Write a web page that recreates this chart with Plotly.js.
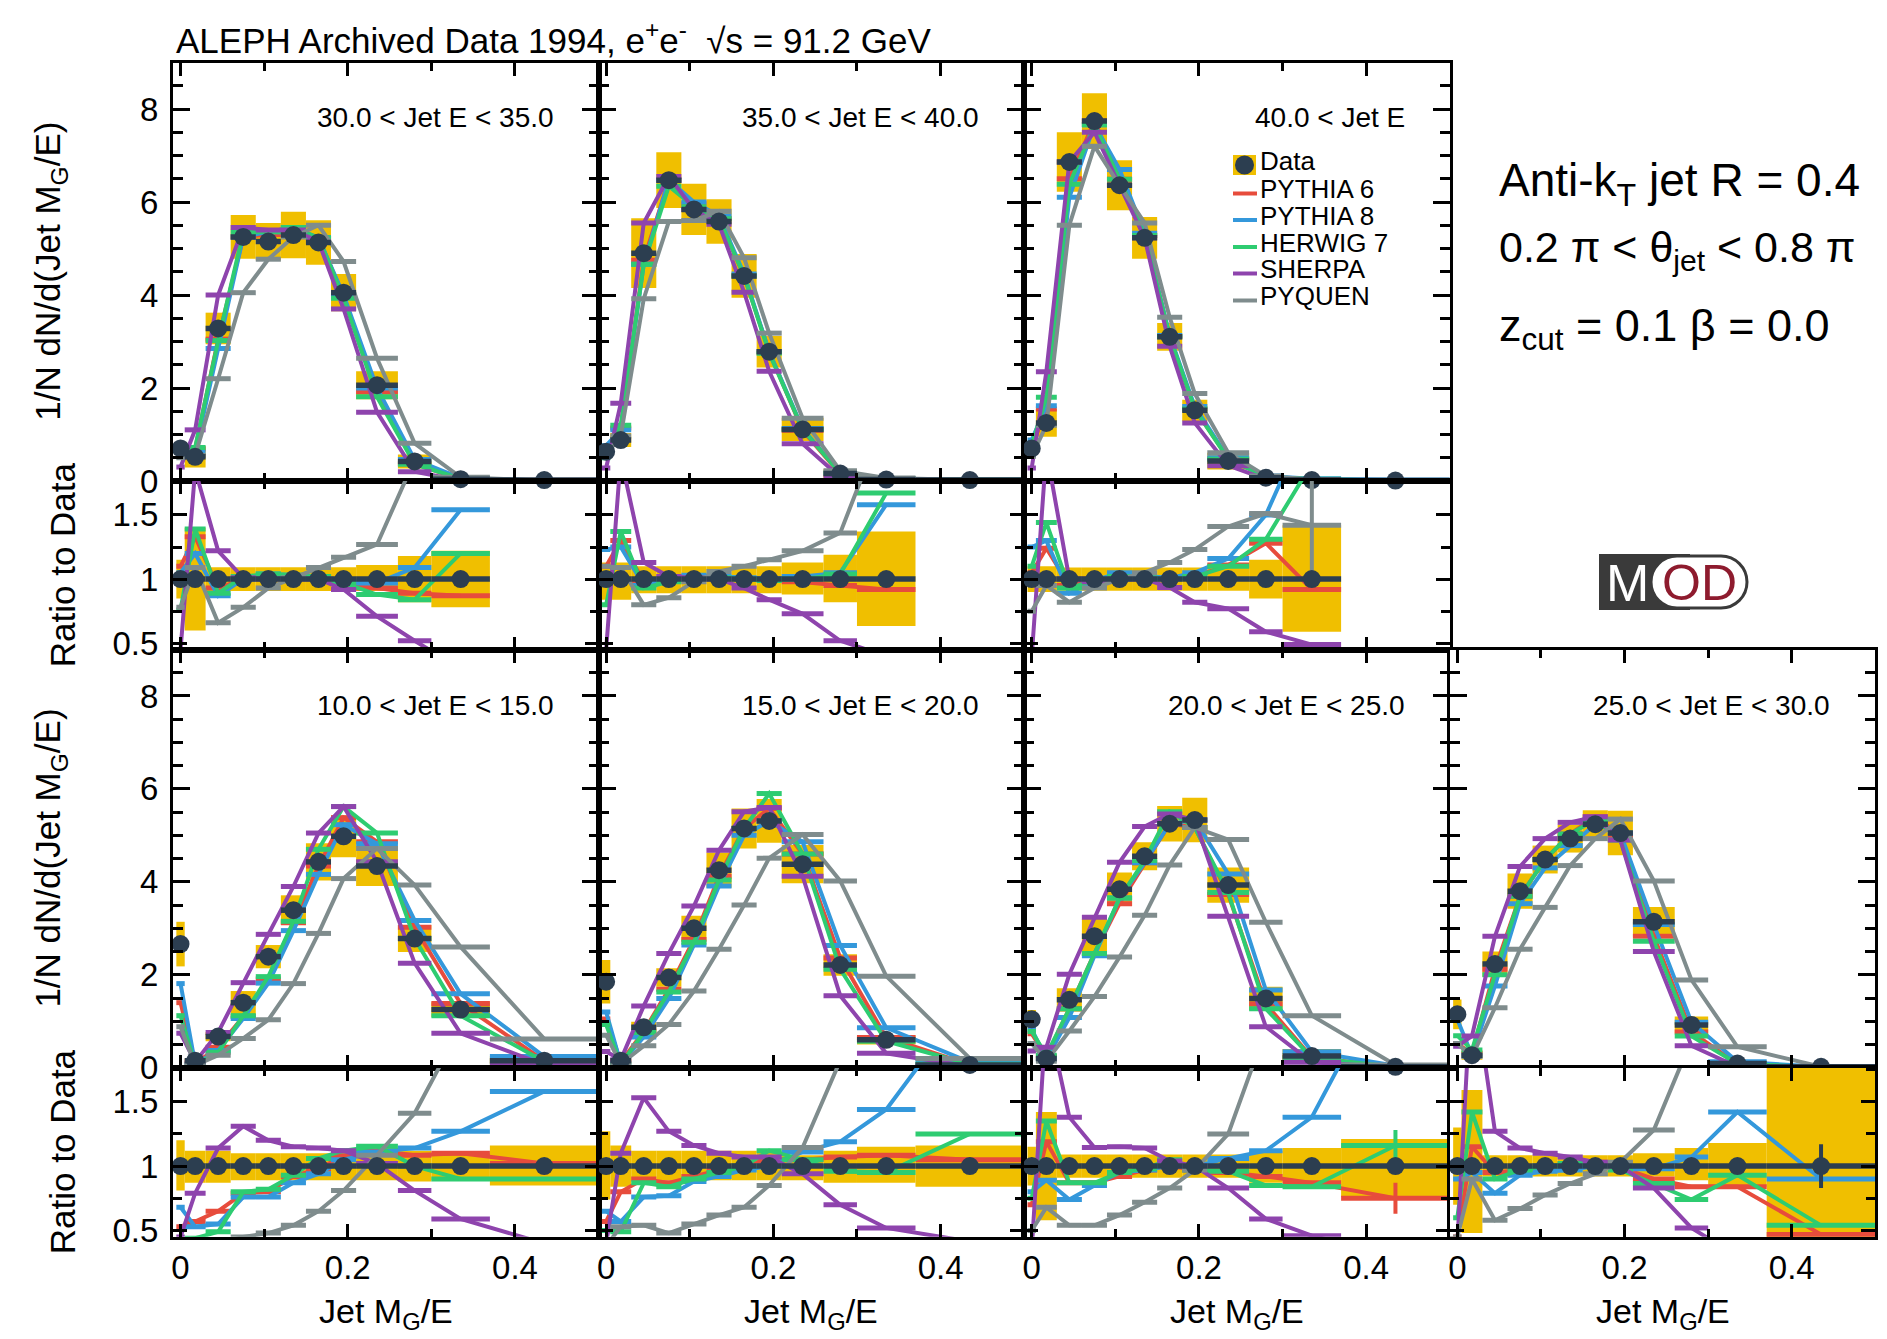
<!DOCTYPE html>
<html><head><meta charset="utf-8">
<script src="https://cdn.plot.ly/plotly-3.0.1.min.js"></script>
<style>html,body{margin:0;padding:0;background:#fff;} #chart{width:1887px;height:1339px;}</style>
</head><body><div id="chart"></div>
<script>
// ---------------- DATA ----------------
const binCenters    = [0, 0.0175, 0.045, 0.075, 0.105, 0.135, 0.165, 0.195, 0.235, 0.28, 0.335, 0.435];
const binHalfWidths = [0.005, 0.0125, 0.015, 0.015, 0.015, 0.015, 0.015, 0.015, 0.025, 0.02, 0.035, 0.065];
const modelNames  = ['PYTHIA 6', 'PYTHIA 8', 'HERWIG 7', 'SHERPA', 'PYQUEN'];
const dataRatioTop    = [1,1,1,1,1,1,1,1,1,1,1,null];
const dataRatioBottom = [1,1,1,1,1,1,1,1,1,1,1,1];

// 30 < E < 35
const E30_data = [0.70, 0.52, 3.28, 5.25, 5.15, 5.29, 5.13, 4.05, 2.06, 0.42, 0.04, 0.02];
const E30_sys  = [0.10, 0.23, 0.34, 0.47, 0.40, 0.50, 0.48, 0.40, 0.30, 0.15, 0.02, 0.01];
const E30_mc = [
 [0.78, 0.69, 3.05, 5.25, 5.30, 5.40, 5.23, 3.97, 1.92, 0.37, 0.035, 0.01],
 [0.74, 0.62, 2.85, 5.25, 5.36, 5.45, 5.23, 4.00, 2.00, 0.46, 0.06, 0.01],
 [0.53, 0.72, 3.02, 5.35, 5.36, 5.45, 5.23, 3.93, 1.81, 0.36, 0.05, 0.01],
 [0.30, 1.10, 4.00, 5.45, 5.40, 5.40, 5.15, 3.70, 1.48, 0.20, 0.01, 0.0],
 [0.50, 0.55, 2.20, 4.05, 4.77, 5.25, 5.50, 4.72, 2.64, 0.81, 0.08, 0.01]];
const E30_mcRatio = [
 [1.10, 1.33, 0.93, 1.00, 1.03, 1.02, 1.02, 0.98, 0.93, 0.89, 0.87, null],
 [1.05, 1.20, 0.87, 1.00, 1.04, 1.03, 1.02, 0.99, 0.97, 1.09, 1.54, null],
 [0.76, 1.39, 0.89, 1.02, 1.04, 1.03, 1.02, 0.97, 0.88, 0.84, 1.20, null],
 [0.45, 1.85, 1.22, 1.01, 1.00, 1.00, 1.00, 0.92, 0.71, 0.52, 0.30, null],
 [0.78, 1.09, 0.66, 0.78, 0.93, 1.01, 1.09, 1.17, 1.27, 1.93, 2.50, null]];
const E30_ratioLo = [0.85, 0.60, 0.907, 0.907, 0.907, 0.907, 0.907, 0.907, 0.907, 0.82, 0.78, null];
const E30_ratioHi = [1.15, 1.40, 1.093, 1.093, 1.093, 1.093, 1.093, 1.093, 1.11, 1.18, 1.22, null];

// 35 < E < 40
const E35_data = [0.63, 0.88, 4.90, 6.47, 5.84, 5.58, 4.41, 2.78, 1.11, 0.16, 0.03, 0.02];
const E35_sys  = [0.10, 0.15, 0.75, 0.60, 0.55, 0.48, 0.47, 0.34, 0.25, 0.10, 0.02, 0.01];
const E35_mc = [
 [0.69, 1.14, 4.75, 6.47, 5.96, 5.64, 4.41, 2.78, 1.09, 0.15, 0.027, 0.01],
 [0.76, 1.10, 4.66, 6.47, 6.00, 5.70, 4.45, 2.78, 1.13, 0.17, 0.047, 0.02],
 [0.50, 1.20, 4.66, 6.34, 5.90, 5.64, 4.41, 2.75, 1.11, 0.165, 0.05, 0.02],
 [0.28, 1.67, 5.55, 6.55, 5.84, 5.52, 4.06, 2.36, 0.80, 0.08, 0.012, 0.0],
 [0.57, 0.97, 3.92, 5.58, 5.60, 5.80, 4.80, 3.18, 1.35, 0.22, 0.065, 0.02]];
const E35_mcRatio = [
 [1.10, 1.30, 0.98, 1.00, 1.02, 1.01, 1.00, 1.00, 0.98, 0.95, 0.92, null],
 [1.23, 1.25, 0.95, 1.00, 1.03, 1.02, 1.01, 1.00, 1.02, 1.05, 1.58, null],
 [0.80, 1.37, 0.93, 0.98, 1.01, 1.01, 1.00, 0.99, 1.00, 1.04, 1.67, null],
 [0.45, 1.95, 1.13, 1.02, 1.01, 1.00, 0.93, 0.84, 0.73, 0.52, 0.40, null],
 [1.10, 1.09, 0.80, 0.855, 0.98, 1.06, 1.10, 1.15, 1.22, 1.36, 2.28, null]];
const E35_ratioLo = [0.84, 0.84, 0.89, 0.89, 0.89, 0.89, 0.89, 0.89, 0.88, 0.82, 0.635, null];
const E35_ratioHi = [1.13, 1.13, 1.10, 1.10, 1.10, 1.10, 1.10, 1.10, 1.13, 1.19, 1.37, null];

// 40 < E
const E40_data = [0.70, 1.25, 6.86, 7.74, 6.36, 5.23, 3.10, 1.52, 0.43, 0.07, 0.02, 0.01];
const E40_sys  = [0.10, 0.30, 0.64, 0.60, 0.54, 0.45, 0.30, 0.23, 0.18, 0.05, 0.02, 0.01];
const E40_mc = [
 [0.74, 1.55, 6.50, 7.74, 6.49, 5.28, 3.10, 1.55, 0.48, 0.09, 0.018, 0.01],
 [0.88, 1.62, 6.10, 7.66, 6.70, 5.33, 3.13, 1.60, 0.50, 0.105, 0.046, 0.02],
 [0.77, 1.80, 6.38, 7.66, 6.49, 5.28, 3.10, 1.55, 0.47, 0.09, 0.038, 0.01],
 [0.28, 2.35, 6.86, 7.50, 6.36, 5.23, 2.90, 1.25, 0.33, 0.04, 0.01, 0.0],
 [0.53, 1.20, 5.50, 7.20, 6.36, 5.55, 3.52, 1.88, 0.61, 0.11, 0.03, 0.01]];
const E40_mcRatio = [
 [1.05, 1.24, 0.95, 1.00, 1.02, 1.01, 1.00, 1.02, 1.11, 1.28, 0.92, null],
 [1.25, 1.30, 0.89, 0.99, 1.05, 1.02, 1.01, 1.05, 1.16, 1.50, 2.30, null],
 [1.10, 1.44, 0.93, 0.99, 1.02, 1.01, 1.00, 1.02, 1.10, 1.31, 1.90, null],
 [0.40, 2.00, 1.00, 0.98, 1.00, 1.00, 0.935, 0.82, 0.77, 0.59, 0.49, null],
 [0.75, 0.95, 0.82, 0.93, 1.00, 1.05, 1.13, 1.23, 1.41, 1.51, 1.42, null]];
const E40_ratioLo = [0.90, 0.90, 0.91, 0.91, 0.91, 0.91, 0.91, 0.91, 0.91, 0.85, 0.59, null];
const E40_ratioHi = [1.10, 1.10, 1.09, 1.09, 1.09, 1.09, 1.09, 1.09, 1.09, 1.15, 1.42, null];
const E40_PYQUEN_ratioErr = [0,0,0,0,0,0,0,0,0,0,0.42,0];

// 10 < E < 15
const E10_data = [2.66, 0.15, 0.67, 1.40, 2.39, 3.39, 4.43, 4.98, 4.34, 2.78, 1.25, 0.15];
const E10_sys  = [0.48, 0.05, 0.10, 0.25, 0.25, 0.32, 0.40, 0.45, 0.43, 0.29, 0.16, 0.10];
const E10_mc = [
 [1.40, 0.09, 0.44, 1.10, 1.91, 3.12, 4.34, 5.38, 4.86, 3.02, 1.38, 0.15],
 [1.81, 0.08, 0.37, 1.06, 1.82, 2.95, 4.16, 5.23, 4.82, 3.17, 1.59, 0.24],
 [1.12, 0.07, 0.33, 1.12, 1.96, 3.15, 4.70, 5.62, 5.05, 2.78, 1.12, 0.135],
 [0.74, 0.12, 0.76, 1.83, 2.87, 3.90, 5.05, 5.62, 4.43, 2.25, 0.74, 0.06],
 [0.88, 0.05, 0.27, 0.63, 1.03, 1.81, 2.89, 4.07, 4.72, 3.93, 2.60, 0.62]];
const E10_mcRatio = [
 [0.53, 0.57, 0.65, 0.79, 0.80, 0.92, 0.98, 1.08, 1.12, 1.085, 1.10, 1.02],
 [0.68, 0.53, 0.55, 0.76, 0.76, 0.87, 0.94, 1.05, 1.11, 1.14, 1.27, 1.58],
 [0.42, 0.44, 0.49, 0.80, 0.82, 0.93, 1.06, 1.12, 1.155, 1.00, 0.90, 0.90],
 [0.45, 0.79, 1.14, 1.31, 1.20, 1.15, 1.14, 1.12, 1.02, 0.81, 0.59, 0.40],
 [0.33, 0.33, 0.40, 0.45, 0.48, 0.54, 0.65, 0.81, 1.085, 1.41, 2.08, 4.1]];
const E10_ratioLo = [0.81, 0.87, 0.87, 0.89, 0.89, 0.89, 0.89, 0.89, 0.89, 0.88, 0.89, 0.85];
const E10_ratioHi = [1.20, 1.12, 1.12, 1.10, 1.10, 1.10, 1.10, 1.10, 1.10, 1.12, 1.10, 1.16];

// 15 < E < 20
const E15_data = [1.85, 0.15, 0.87, 1.94, 3.00, 4.25, 5.15, 5.31, 4.38, 2.21, 0.60, 0.06];
const E15_sys  = [0.47, 0.05, 0.12, 0.20, 0.27, 0.38, 0.43, 0.47, 0.41, 0.23, 0.10, 0.02];
const E15_mc = [
 [1.05, 0.12, 0.78, 1.69, 2.76, 4.12, 5.15, 5.58, 4.60, 2.36, 0.65, 0.063],
 [1.20, 0.09, 0.66, 1.49, 2.64, 3.91, 5.00, 5.31, 4.86, 2.63, 0.86, 0.12],
 [0.93, 0.07, 0.76, 1.63, 2.70, 4.04, 5.15, 5.90, 4.60, 2.12, 0.57, 0.075],
 [0.35, 0.17, 1.33, 2.46, 3.48, 4.68, 5.51, 5.60, 4.12, 1.55, 0.31, 0.025],
 [0.70, 0.08, 0.47, 0.93, 1.65, 2.55, 3.50, 4.51, 5.02, 4.02, 1.97, 0.20]];
const E15_mcRatio = [
 [0.57, 0.80, 0.90, 0.87, 0.92, 0.97, 1.00, 1.05, 1.05, 1.07, 1.085, 1.05],
 [0.65, 0.57, 0.76, 0.77, 0.88, 0.92, 0.97, 1.00, 1.11, 1.19, 1.44, 2.31],
 [0.50, 0.49, 0.87, 0.84, 0.90, 0.95, 1.00, 1.12, 1.05, 0.96, 0.95, 1.25],
 [0.40, 1.10, 1.53, 1.27, 1.16, 1.10, 1.07, 1.07, 0.94, 0.70, 0.52, 0.415],
 [0.38, 0.53, 0.54, 0.48, 0.55, 0.62, 0.68, 0.85, 1.145, 1.82, 3.3, 3.5]];
const E15_ratioLo = [0.74, 0.84, 0.89, 0.89, 0.89, 0.89, 0.89, 0.89, 0.89, 0.87, 0.87, 0.84];
const E15_ratioHi = [1.27, 1.16, 1.12, 1.12, 1.12, 1.12, 1.12, 1.12, 1.085, 1.12, 1.15, 1.16];

// 20 < E < 25
const E20_data = [1.04, 0.20, 1.46, 2.83, 3.84, 4.55, 5.25, 5.33, 3.93, 1.49, 0.25, 0.02];
const E20_sys  = [0.20, 0.05, 0.25, 0.37, 0.36, 0.30, 0.38, 0.48, 0.38, 0.25, 0.15, 0.01];
const E20_mc = [
 [0.73, 0.24, 1.27, 2.46, 3.53, 4.41, 5.25, 5.17, 3.73, 1.37, 0.22, 0.015],
 [0.83, 0.18, 1.08, 2.41, 3.65, 4.41, 5.25, 5.33, 4.17, 1.67, 0.345, 0.04],
 [0.78, 0.27, 1.27, 2.46, 3.65, 4.46, 5.51, 5.17, 3.77, 1.27, 0.21, 0.023],
 [0.36, 0.44, 2.01, 3.24, 4.42, 5.19, 5.46, 5.33, 3.26, 0.88, 0.115, 0.006],
 [0.52, 0.14, 0.79, 1.53, 2.38, 3.28, 4.36, 5.17, 4.91, 3.13, 1.12, 0.06]];
const E20_mcRatio = [
 [0.70, 1.19, 0.87, 0.87, 0.92, 0.97, 1.00, 0.97, 0.95, 0.92, 0.87, 0.75],
 [0.80, 0.89, 0.74, 0.85, 0.95, 0.97, 1.00, 1.00, 1.06, 1.12, 1.38, 2.6],
 [0.75, 1.35, 0.87, 0.87, 0.95, 0.98, 1.05, 0.97, 0.96, 0.85, 0.84, 1.16],
 [0.35, 2.20, 1.38, 1.145, 1.15, 1.14, 1.04, 1.00, 0.83, 0.59, 0.46, 0.30],
 [0.50, 0.68, 0.54, 0.54, 0.62, 0.72, 0.83, 0.97, 1.25, 2.06, 4.5, 3.0]];
const E20_ratioLo = [0.85, 0.58, 0.91, 0.91, 0.91, 0.91, 0.91, 0.91, 0.91, 0.87, 0.87, 0.76];
const E20_ratioHi = [1.15, 1.42, 1.09, 1.09, 1.09, 1.09, 1.09, 1.09, 1.09, 1.12, 1.14, 1.21];
const E20_PYTHIA6_ratioErr = [0,0,0,0,0,0,0,0,0,0,0,0.12];
const E20_HERWIG7_ratioErr = [0,0,0,0,0,0,0,0,0,0,0,0.12];

// 25 < E < 30
const E25_data = [1.15, 0.27, 2.23, 3.80, 4.48, 4.93, 5.24, 5.05, 3.14, 0.92, 0.09, 0.02];
const E25_sys  = [0.32, 0.10, 0.27, 0.38, 0.30, 0.30, 0.30, 0.48, 0.32, 0.18, 0.03, 0.02];
const E25_mc = [
 [0.52, 0.31, 2.12, 3.69, 4.48, 5.03, 5.40, 5.00, 2.83, 0.77, 0.076, 0.008],
 [1.04, 0.26, 1.76, 3.53, 4.30, 4.78, 5.24, 5.05, 3.08, 0.98, 0.128, 0.018],
 [0.69, 0.38, 2.00, 3.69, 4.48, 5.03, 5.34, 4.90, 2.72, 0.68, 0.084, 0.011],
 [0.46, 0.68, 2.83, 4.33, 4.93, 5.28, 5.40, 4.90, 2.50, 0.47, 0.02, 0.004],
 [0.52, 0.24, 1.29, 2.55, 3.45, 4.35, 4.93, 5.35, 4.02, 1.89, 0.45, 0.02]];
const E25_mcRatio = [
 [0.45, 1.15, 0.95, 0.97, 1.00, 1.02, 1.03, 0.99, 0.90, 0.84, 0.84, 0.47],
 [0.90, 0.95, 0.79, 0.93, 0.96, 0.97, 1.00, 1.00, 0.98, 1.07, 1.42, 0.90],
 [0.60, 1.42, 0.90, 0.97, 1.00, 1.02, 1.02, 0.97, 0.865, 0.74, 0.93, 0.54],
 [0.40, 2.50, 1.27, 1.14, 1.10, 1.07, 1.03, 1.00, 0.83, 0.52, 0.30, 0.20],
 [0.45, 0.90, 0.58, 0.67, 0.775, 0.865, 0.94, 1.03, 1.28, 1.98, 5.0, null]];
const E25_ratioLo = [0.70, 0.48, 0.92, 0.92, 0.92, 0.92, 0.92, 0.92, 0.92, 0.89, 0.84, 0.40];
const E25_ratioHi = [1.30, 1.59, 1.085, 1.085, 1.085, 1.085, 1.085, 1.085, 1.10, 1.14, 1.18, 1.85];
const E25_data_ratioErr = [0,0,0,0,0,0,0,0,0,0,0,0.17];

// ---------------- STYLE ----------------
const W = 1887, H = 1339;
const FONT = 'Liberation Sans, Arial, Helvetica, sans-serif';
const GOLD = '#f0bf00';
const DARK = '#2c3e50';
const modelColors = ['#e74c3c', '#3498db', '#2ecc71', '#8e44ad', '#7f8c8d'];
const colLeft = [173, 598.6, 1024.2, 1449.8];
const PW = 425.6;
const mainTop = [62.5, 649.5], mainBot = [481, 1067.7];
const ratTop  = [481, 1067.7], ratBot  = [649.5, 1236.7];
const px = v => v / W;
const py = v => 1 - v / H;
const LW = 4, EW = 5, MS = 18;

const panels = [
  {label:'30.0 < Jet E < 35.0', row:0, col:0, data:E30_data, sys:E30_sys, mc:E30_mc, mcR:E30_mcRatio, lo:E30_ratioLo, hi:E30_ratioHi, dR:dataRatioTop},
  {label:'35.0 < Jet E < 40.0', row:0, col:1, data:E35_data, sys:E35_sys, mc:E35_mc, mcR:E35_mcRatio, lo:E35_ratioLo, hi:E35_ratioHi, dR:dataRatioTop},
  {label:'40.0 < Jet E',        row:0, col:2, data:E40_data, sys:E40_sys, mc:E40_mc, mcR:E40_mcRatio, lo:E40_ratioLo, hi:E40_ratioHi, dR:dataRatioTop, mcErr:{4:E40_PYQUEN_ratioErr}},
  {label:'10.0 < Jet E < 15.0', row:1, col:0, data:E10_data, sys:E10_sys, mc:E10_mc, mcR:E10_mcRatio, lo:E10_ratioLo, hi:E10_ratioHi, dR:dataRatioBottom},
  {label:'15.0 < Jet E < 20.0', row:1, col:1, data:E15_data, sys:E15_sys, mc:E15_mc, mcR:E15_mcRatio, lo:E15_ratioLo, hi:E15_ratioHi, dR:dataRatioBottom},
  {label:'20.0 < Jet E < 25.0', row:1, col:2, data:E20_data, sys:E20_sys, mc:E20_mc, mcR:E20_mcRatio, lo:E20_ratioLo, hi:E20_ratioHi, dR:dataRatioBottom, mcErr:{0:E20_PYTHIA6_ratioErr, 2:E20_HERWIG7_ratioErr}},
  {label:'25.0 < Jet E < 30.0', row:1, col:3, data:E25_data, sys:E25_sys, mc:E25_mc, mcR:E25_mcRatio, lo:E25_ratioLo, hi:E25_ratioHi, dR:dataRatioBottom, dErr:E25_data_ratioErr}
];

const traces = [];
const layout = {
  width: W, height: H, margin:{l:0,r:0,t:0,b:0,pad:0},
  paper_bgcolor:'white', plot_bgcolor:'white', showlegend:false,
  barmode:'overlay', font:{family:FONT, color:'black'},
  annotations:[], shapes:[]
};

const axBase = {showline:true, linecolor:'black', linewidth:3, mirror:'ticks', ticks:'inside',
  tickcolor:'black', tickwidth:3, showgrid:false, zeroline:false, fixedrange:true,
  tickfont:{family:FONT, size:33, color:'black'}};

panels.forEach((p, i) => {
  const nm = 2*i + 1, nr = 2*i + 2;
  const xm = nm === 1 ? 'x' : 'x' + nm, ym = nm === 1 ? 'y' : 'y' + nm;
  const xr = 'x' + nr, yr = 'y' + nr;
  const xd = [px(colLeft[p.col]), px(colLeft[p.col] + PW)];

  // main panel: systematic boxes
  traces.push({type:'bar', x:binCenters, base:p.data.map((d,k)=>d - p.sys[k]), y:p.sys.map(s=>2*s),
    width:binHalfWidths.map(h=>2*h), marker:{color:GOLD, line:{width:0}}, xaxis:xm, yaxis:ym, hoverinfo:'skip'});
  p.mc.forEach((vals, m) => traces.push({type:'scatter', mode:'lines', x:binCenters, y:vals, name:modelNames[m],
    line:{color:modelColors[m], width:LW},
    error_x:{type:'data', array:binHalfWidths, visible:true, width:0, thickness:EW, color:modelColors[m]},
    xaxis:xm, yaxis:ym, hoverinfo:'skip'}));
  traces.push({type:'scatter', mode:'markers', x:binCenters, y:p.data, name:'Data',
    marker:{color:DARK, size:MS}, cliponaxis:false,
    error_x:{type:'data', array:binHalfWidths, visible:true, width:0, thickness:EW + 0.5, color:DARK},
    xaxis:xm, yaxis:ym, hoverinfo:'skip'});

  // ratio panel
  traces.push({type:'bar', x:binCenters, base:p.lo, y:p.hi.map((h,k)=> h == null ? null : h - p.lo[k]),
    width:binHalfWidths.map(h=>2*h), marker:{color:GOLD, line:{width:0}}, xaxis:xr, yaxis:yr, hoverinfo:'skip'});
  p.mcR.forEach((vals, m) => {
    const t = {type:'scatter', mode:'lines', x:binCenters, y:vals, line:{color:modelColors[m], width:LW},
      error_x:{type:'data', array:binHalfWidths, visible:true, width:0, thickness:EW, color:modelColors[m]},
      xaxis:xr, yaxis:yr, hoverinfo:'skip'};
    if (p.mcErr && p.mcErr[m]) t.error_y = {type:'data', array:p.mcErr[m], visible:true, width:0, thickness:4, color:modelColors[m]};
    traces.push(t);
  });
  const dt = {type:'scatter', mode:'markers', x:binCenters, y:p.dR, marker:{color:DARK, size:MS}, cliponaxis:false,
    error_x:{type:'data', array:binHalfWidths, visible:true, width:0, thickness:EW + 0.5, color:DARK},
    xaxis:xr, yaxis:yr, hoverinfo:'skip'};
  if (p.dErr) dt.error_y = {type:'data', array:p.dErr, visible:true, width:0, thickness:4, color:DARK};
  traces.push(dt);

  const xKeyM = nm === 1 ? 'xaxis' : 'xaxis' + nm, yKeyM = nm === 1 ? 'yaxis' : 'yaxis' + nm;
  layout[xKeyM] = Object.assign({}, axBase, {domain:xd, anchor:ym, range:[-0.009, 0.5], tick0:0, dtick:0.2, ticklen:13,
    minor:{dtick:0.1, tick0:0, ticks:'inside', ticklen:8, tickwidth:3, tickcolor:'black'}, showticklabels:false});
  layout[yKeyM] = Object.assign({}, axBase, {domain:[py(mainBot[p.row]), py(mainTop[p.row])], anchor:xm, range:[0, 9],
    tick0:0, dtick:2, ticklen:17, minor:{dtick:0.5, tick0:0, ticks:'inside', ticklen:10, tickwidth:3, tickcolor:'black'},
    showticklabels:p.col === 0, ticklabelstandoff:5});
  layout['xaxis' + nr] = Object.assign({}, axBase, {domain:xd, anchor:yr, range:[-0.009, 0.5], tick0:0, dtick:0.2, ticklen:13,
    minor:{dtick:0.1, tick0:0, ticks:'inside', ticklen:8, tickwidth:3, tickcolor:'black'}, showticklabels:p.row === 1, ticklabelstandoff:0});
  layout['yaxis' + nr] = Object.assign({}, axBase, {domain:[py(ratBot[p.row]), py(ratTop[p.row])], anchor:xr, range:[0.452, 1.764],
    tick0:0.5, dtick:0.5, ticklen:14, minor:{dtick:0.25, tick0:0, ticks:'inside', ticklen:9, tickwidth:3, tickcolor:'black'},
    showticklabels:p.col === 0, ticklabelstandoff:5});

  // panel label
  layout.annotations.push({xref:'paper', yref:'paper', x:px(colLeft[p.col] + PW - 43), y:py(mainTop[p.row] + 55.5),
    xanchor:'right', yanchor:'middle', text:p.label, showarrow:false, font:{family:FONT, size:28, color:'black'}});
  // x title
  if (p.row === 1) layout.annotations.push({xref:'paper', yref:'paper', x:px(colLeft[p.col] + PW/2), y:py(1313),
    xanchor:'center', yanchor:'middle', text:'Jet M<sub>G</sub>/E', showarrow:false, font:{family:FONT, size:34, color:'black'}});
});

// y titles
[0, 1].forEach(r => {
  layout.annotations.push({xref:'paper', yref:'paper', x:px(50), y:py((mainTop[r] + mainBot[r]) / 2), textangle:-90,
    xanchor:'center', yanchor:'middle', text:'1/N dN/d(Jet M<sub>G</sub>/E)', showarrow:false, font:{family:FONT, size:35, color:'black'}});
  layout.annotations.push({xref:'paper', yref:'paper', x:px(62), y:py((ratTop[r] + ratBot[r]) / 2), textangle:-90,
    xanchor:'center', yanchor:'middle', text:'Ratio to Data', showarrow:false, font:{family:FONT, size:35, color:'black'}});
});

// top title
layout.annotations.push({xref:'paper', yref:'paper', x:px(174), y:py(38), xanchor:'left', yanchor:'middle',
  text:'ALEPH Archived Data 1994, e<sup>+</sup>e<sup>-</sup>  √s = 91.2 GeV', showarrow:false, font:{family:FONT, size:35, color:'black'}});

// right-side text
[['Anti-k<sub>T</sub> jet R = 0.4', 184, 46], ['0.2 π < θ<sub>jet</sub> < 0.8 π', 250, 43], ['z<sub>cut</sub> = 0.1 β = 0.0', 329, 45]].forEach(([t, y, s]) => {
  layout.annotations.push({xref:'paper', yref:'paper', x:px(1497), y:py(y), xanchor:'left', yanchor:'middle',
    text:t, showarrow:false, font:{family:FONT, size:s, color:'black'}});
});

// legend (drawn in panel 40 < E)
layout.shapes.push({type:'rect', xref:'paper', yref:'paper', x0:px(1233), x1:px(1256), y0:py(175), y1:py(155), fillcolor:GOLD, line:{width:0}});
layout.shapes.push({type:'circle', xref:'paper', yref:'paper', x0:px(1235), x1:px(1254), y0:py(174.5), y1:py(155.5), fillcolor:DARK, line:{width:0}});
const legY = [161, 189.5, 216, 243, 269.5, 296.5];
const legNames = ['Data'].concat(modelNames);
legNames.forEach((n, m) => {
  if (m > 0) layout.shapes.push({type:'line', xref:'paper', yref:'paper', x0:px(1233), x1:px(1257), y0:py(legY[m] + 4), y1:py(legY[m] + 4),
    line:{color:modelColors[m - 1], width:4}});
  layout.annotations.push({xref:'paper', yref:'paper', x:px(1259), y:py(legY[m]), xanchor:'left', yanchor:'middle', text:n,
    showarrow:false, font:{family:FONT, size:26, color:'black'}, borderpad:0});
});

// MOD logo
layout.shapes.push({type:'rect', xref:'paper', yref:'paper', x0:px(1599), x1:px(1690), y0:py(610), y1:py(554), fillcolor:'#3a3a3a', line:{width:0}});
(function(){
  const x0 = 1651, x1 = 1747, y0 = 556, y1 = 608, r = 26, k = 0.5523 * r;
  const P = (x, y) => px(x) + ',' + py(y);
  const path = 'M' + P(x0 + r, y0) + ' L' + P(x1 - r, y0) +
    ' C' + P(x1 - r + k, y0) + ' ' + P(x1, y0 + r - k) + ' ' + P(x1, y0 + r) +
    ' C' + P(x1, y0 + r + k) + ' ' + P(x1 - r + k, y1) + ' ' + P(x1 - r, y1) +
    ' L' + P(x0 + r, y1) +
    ' C' + P(x0 + r - k, y1) + ' ' + P(x0, y1 - r + k) + ' ' + P(x0, y1 - r) +
    ' C' + P(x0, y0 + r - k) + ' ' + P(x0 + r - k, y0) + ' ' + P(x0 + r, y0) + ' Z';
  layout.shapes.push({type:'path', xref:'paper', yref:'paper', path:path, fillcolor:'white', line:{color:'#3a3a3a', width:3}});
})();
layout.annotations.push({xref:'paper', yref:'paper', x:px(1627), y:py(583), xanchor:'center', yanchor:'middle', text:'M',
  showarrow:false, font:{family:FONT, size:52, color:'white'}});
layout.annotations.push({xref:'paper', yref:'paper', x:px(1699), y:py(583), xanchor:'center', yanchor:'middle', text:'OD',
  showarrow:false, font:{family:FONT, size:50, color:'#8e1b2e'}});

Plotly.newPlot('chart', traces, layout, {staticPlot:true, displayModeBar:false});
</script></body></html>
